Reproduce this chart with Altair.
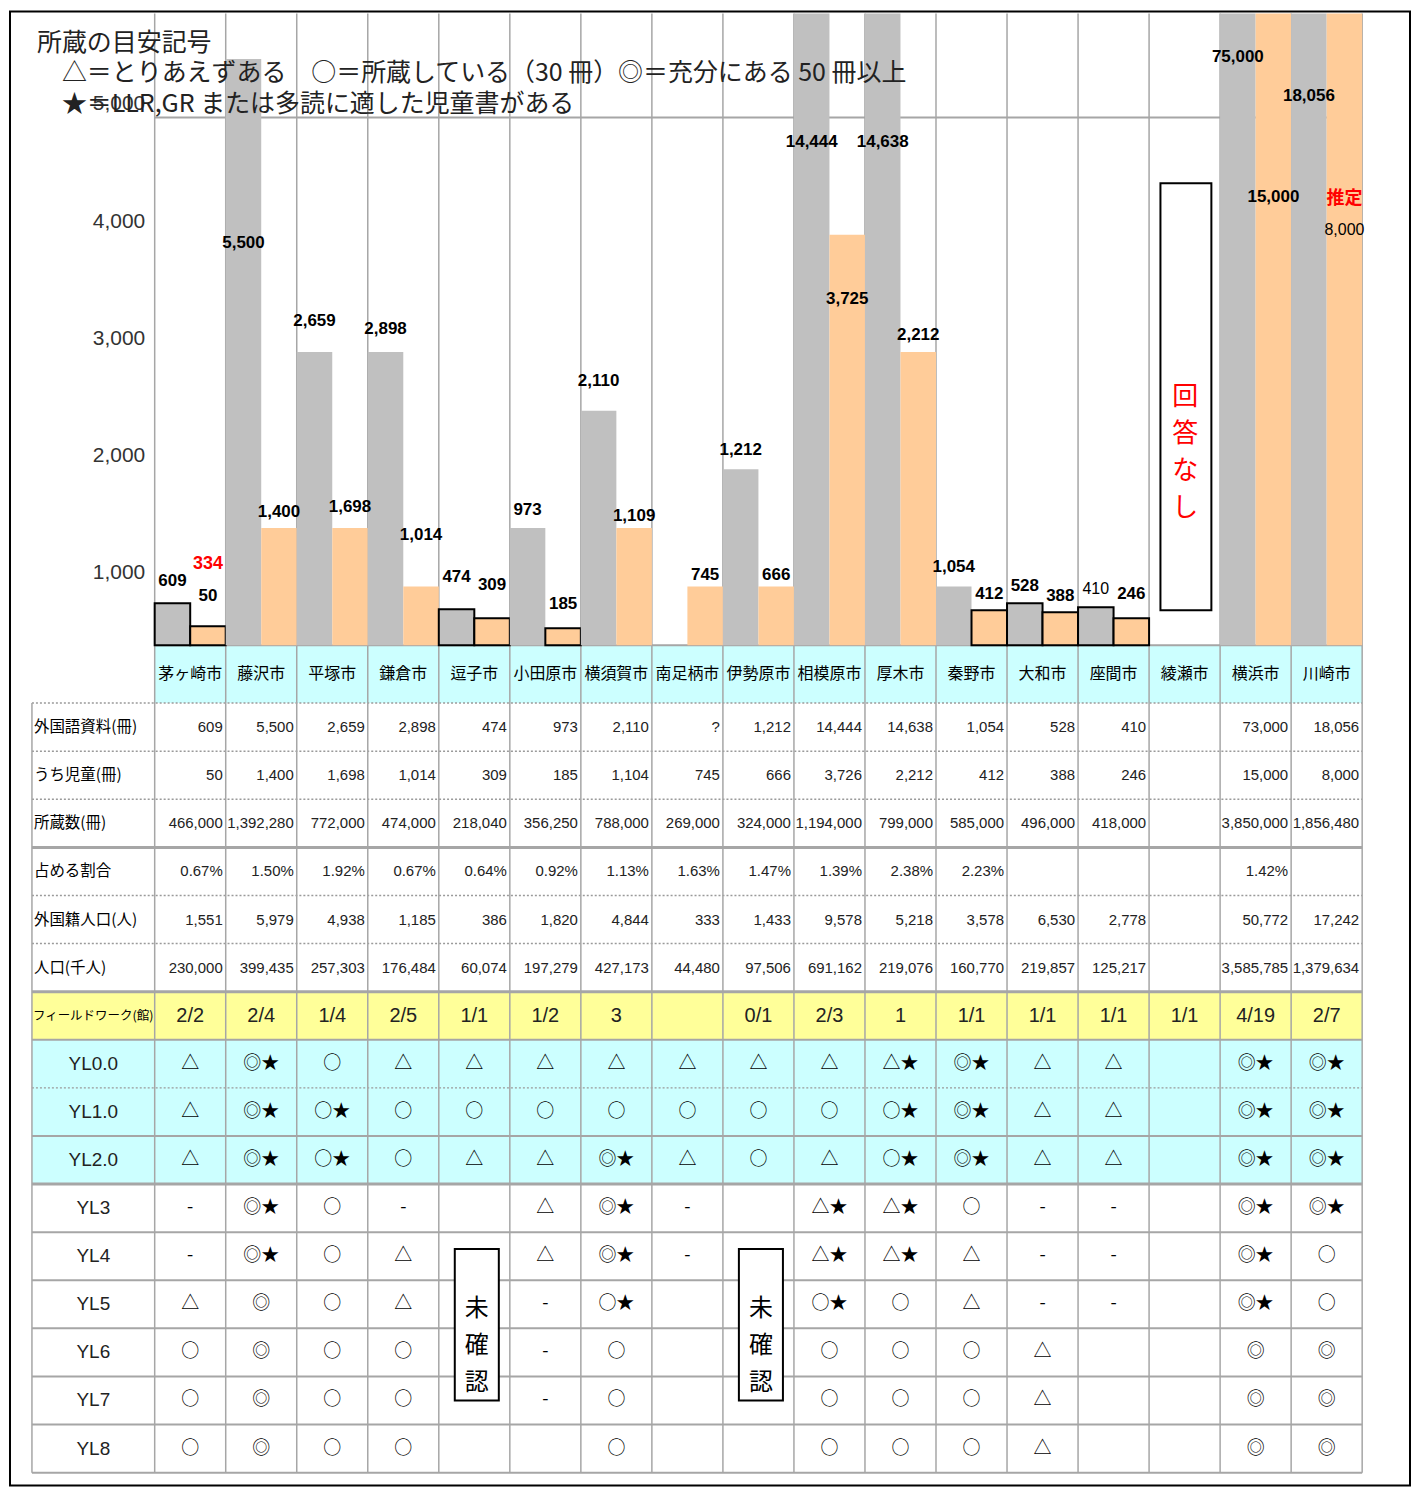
import altair as alt
import pandas as pd

# ---------------- data ----------------
CITIES = ["茅ヶ崎市", "藤沢市", "平塚市", "鎌倉市", "逗子市", "小田原市", "横須賀市", "南足柄市",
          "伊勢原市", "相模原市", "厚木市", "秦野市", "大和市", "座間市", "綾瀬市", "横浜市", "川崎市"]

# drawn bar heights (chart units) and their printed labels
FOREIGN_BAR = [357, 5000, 2500, 2500, 306, 1000, 2000, 0, 1500, 14444, 14638, 500, 357, 323, 0, 75000, 18056]
CHILD_BAR = [162, 1000, 1000, 500, 230, 145, 1000, 500, 500, 3500, 2500, 298, 281, 230, 0, 15000, 8000]
FOREIGN_LABEL = ["609", "5,500", "2,659", "2,898", "474", "973", "2,110", "", "1,212", "14,444", "14,638",
                 "1,054", "528", "410", "", "75,000", "18,056"]
CHILD_LABEL = ["50", "1,400", "1,698", "1,014", "309", "185", "1,109", "745", "666", "3,725", "2,212",
               "412", "388", "246", "", "15,000", "8,000"]
# height (chart units) at which each printed label sits
FOREIGN_LABEL_AT = [545, 3430, 2766, 2698, 579, 1149, 2255, 0, 1668, 4289, 4289, 664, 502, 477, 0, 5021, 4681]
CHILD_LABEL_AT = [417, 1140, 1183, 936, 511, 349, 1098, 596, 596, 2953, 2647, 434, 417, 434, 0, 3821, 3540]
PLAIN_LABELS = [("座間市", 0), ("川崎市", 1)]

NOTE_TEXT = ["334", "推定"]
NOTE_CITY = ["茅ヶ崎市", "川崎市"]
NOTE_AT = [689, 3804]

NOANSWER_CITY = "綾瀬市"
NOANSWER_TEXT = "回\n答\nな\nし"
NOANSWER_RANGE = [298, 3940]

Y_TICKS = [1000, 2000, 3000, 4000, 5000]

LEGEND_LINES = ["所蔵の目安記号",
                "△＝とりあえずある　○＝所蔵している（30 冊）◎＝充分にある 50 冊以上",
                "★＝LLR,GR または多読に適した児童書がある"]

ROW_LABELS = ["外国語資料(冊)", "うち児童(冊)", "所蔵数(冊)", "占める割合", "外国籍人口(人)", "人口(千人)",
              "フィールドワーク(館)", "YL0.0", "YL1.0", "YL2.0", "YL3", "YL4", "YL5", "YL6", "YL7", "YL8"]

ROW_FOREIGN = ["609", "5,500", "2,659", "2,898", "474", "973", "2,110", "?", "1,212", "14,444", "14,638",
               "1,054", "528", "410", "", "73,000", "18,056"]
ROW_CHILD = ["50", "1,400", "1,698", "1,014", "309", "185", "1,104", "745", "666", "3,726", "2,212",
             "412", "388", "246", "", "15,000", "8,000"]
ROW_HOLDINGS = ["466,000", "1,392,280", "772,000", "474,000", "218,040", "356,250", "788,000", "269,000",
                "324,000", "1,194,000", "799,000", "585,000", "496,000", "418,000", "", "3,850,000", "1,856,480"]
ROW_SHARE = ["0.67%", "1.50%", "1.92%", "0.67%", "0.64%", "0.92%", "1.13%", "1.63%", "1.47%", "1.39%",
             "2.38%", "2.23%", "", "", "", "1.42%", ""]
ROW_FOREIGN_POP = ["1,551", "5,979", "4,938", "1,185", "386", "1,820", "4,844", "333", "1,433", "9,578",
                   "5,218", "3,578", "6,530", "2,778", "", "50,772", "17,242"]
ROW_POP = ["230,000", "399,435", "257,303", "176,484", "60,074", "197,279", "427,173", "44,480", "97,506",
           "691,162", "219,076", "160,770", "219,857", "125,217", "", "3,585,785", "1,379,634"]
ROW_FIELDWORK = ["2/2", "2/4", "1/4", "2/5", "1/1", "1/2", "3", "", "0/1", "2/3", "1", "1/1", "1/1", "1/1",
                 "1/1", "4/19", "2/7"]
ROW_YL00 = ["△", "◎★", "○", "△", "△", "△", "△", "△", "△", "△", "△★", "◎★", "△", "△", "", "◎★", "◎★"]
ROW_YL10 = ["△", "◎★", "○★", "○", "○", "○", "○", "○", "○", "○", "○★", "◎★", "△", "△", "", "◎★", "◎★"]
ROW_YL20 = ["△", "◎★", "○★", "○", "△", "△", "◎★", "△", "○", "△", "○★", "◎★", "△", "△", "", "◎★", "◎★"]
ROW_YL3 = ["-", "◎★", "○", "-", "", "△", "◎★", "-", "", "△★", "△★", "○", "-", "-", "", "◎★", "◎★"]
ROW_YL4 = ["-", "◎★", "○", "△", "", "△", "◎★", "-", "", "△★", "△★", "△", "-", "-", "", "◎★", "○"]
ROW_YL5 = ["△", "◎", "○", "△", "", "-", "○★", "", "", "○★", "○", "△", "-", "-", "", "◎★", "○"]
ROW_YL6 = ["○", "◎", "○", "○", "", "-", "○", "", "", "○", "○", "○", "△", "", "", "◎", "◎"]
ROW_YL7 = ["○", "◎", "○", "○", "", "-", "○", "", "", "○", "○", "○", "△", "", "", "◎", "◎"]
ROW_YL8 = ["○", "◎", "○", "○", "", "", "○", "", "", "○", "○", "○", "△", "", "", "◎", "◎"]
TABLE_ROWS = [ROW_FOREIGN, ROW_CHILD, ROW_HOLDINGS, ROW_SHARE, ROW_FOREIGN_POP, ROW_POP, ROW_FIELDWORK,
              ROW_YL00, ROW_YL10, ROW_YL20, ROW_YL3, ROW_YL4, ROW_YL5, ROW_YL6, ROW_YL7, ROW_YL8]

UNCONFIRMED_CITIES = ["逗子市", "伊勢原市"]
UNCONFIRMED_TEXT = "未\n確\n認"

# ---------------- layout / style ----------------
PAGE_L, PAGE_T, PAGE_R, PAGE_B = 10, 10, 1413, 1487
COL0, COLW = 155, 71.18
BASE, PXU = 645, 0.1175
CHART_TOP = 12
T0, ROWH = 703, 48.2
W, H = PAGE_R - PAGE_L, PAGE_B - PAGE_T
NC = len(CITIES)

GRAY, ORANGE, CYAN, YELLOW = "#C0C0C0", "#FFCC99", "#CCFFFF", "#FFFF99"
LINE = "#A6A6A6"
NARROW = "Liberation Sans Narrow, Liberation Sans, Arial, sans-serif"
CJK = "Noto Sans CJK JP, sans-serif"

XS = alt.Scale(domain=[(PAGE_L - COL0) / COLW, (PAGE_R - COL0) / COLW], nice=False, zero=False)
YB = alt.Scale(domain=[(BASE - PAGE_B) / PXU, (BASE - PAGE_T) / PXU], nice=False, zero=False)
YT = alt.Scale(domain=[(PAGE_T - T0) / ROWH, (PAGE_B - T0) / ROWH], nice=False, zero=False, reverse=True)
TOP_VAL = (BASE - CHART_TOP) / PXU
TOP_T = (CHART_TOP - T0) / ROWH
CITY_T = (BASE - T0) / ROWH
LABEL_X = (32 - COL0) / COLW

YAX = alt.Axis(values=Y_TICKS, format=",d", labelOffset=45, offset=-(COL0 - PAGE_L), domain=False,
               ticks=False, grid=False, labelPadding=10, labelFont=NARROW, labelFontSize=21,
               labelColor="#333333", title=None)

# ---------------- bar part ----------------
bar_rows = []
for i, c in enumerate(CITIES):
    for s, (h, lab, at) in enumerate([(FOREIGN_BAR[i], FOREIGN_LABEL[i], FOREIGN_LABEL_AT[i]),
                                      (CHILD_BAR[i], CHILD_LABEL[i], CHILD_LABEL_AT[i])]):
        bar_rows.append(dict(i=i, city=c, s=s, series=["外国語資料", "うち児童"][s], h=h, lab=lab, at=at,
                             plain=(c, s) in PLAIN_LABELS))
bar_df = pd.DataFrame(bar_rows)

bars = alt.Chart(bar_df).transform_filter("datum.h > 0").transform_calculate(
    xa="datum.i + 0.5*datum.s", xb="datum.i + 0.5*datum.s + 0.5",
    hc=f"min(datum.h, {TOP_VAL})", z="0"
).mark_rect(strokeWidth=2).encode(
    x=alt.X("xa:Q", scale=XS, axis=None), x2="xb:Q",
    y=alt.Y("hc:Q", scale=YB, axis=YAX), y2="z:Q",
    color=alt.Color("series:N", scale=alt.Scale(domain=["外国語資料", "うち児童"], range=[GRAY, ORANGE]),
                    legend=None),
    stroke=alt.condition("datum.h < 450", alt.value("#000000"), alt.value("transparent")),
)

grid_top = alt.Chart(pd.DataFrame({"v": [4500], "a": [0], "b": [NC]})).mark_rule(
    color=LINE, strokeWidth=2).encode(
    x=alt.X("a:Q", scale=XS, axis=None), x2="b:Q", y=alt.Y("v:Q", scale=YB, axis=YAX))

label_base = alt.Chart(bar_df).transform_filter("datum.lab != ''").transform_calculate(
    xc="datum.i + 0.5*datum.s + 0.25")
labels_bold = label_base.transform_filter("!datum.plain").mark_text(
    font=NARROW, fontSize=17, fontWeight="bold", color="#000000", baseline="middle").encode(
    x=alt.X("xc:Q", scale=XS, axis=None), y=alt.Y("at:Q", scale=YB, axis=YAX), text="lab:N")
labels_plain = label_base.transform_filter("datum.plain").mark_text(
    font=NARROW, fontSize=16, color="#000000", baseline="middle").encode(
    x=alt.X("xc:Q", scale=XS, axis=None), y=alt.Y("at:Q", scale=YB, axis=YAX), text="lab:N")

note_df = pd.DataFrame({"i": [CITIES.index(c) for c in NOTE_CITY], "t": NOTE_TEXT, "at": NOTE_AT})
notes = alt.Chart(note_df).transform_calculate(xc="datum.i + 0.75").mark_text(
    font="Liberation Sans, Noto Sans CJK JP, sans-serif", fontSize=18, fontWeight="bold",
    color="#FF0000", baseline="middle").encode(
    x=alt.X("xc:Q", scale=XS, axis=None), y=alt.Y("at:Q", scale=YB, axis=YAX), text="t:N")

na_i = CITIES.index(NOANSWER_CITY)
na_df = pd.DataFrame({"i": [na_i], "lo": [NOANSWER_RANGE[0]], "hi": [NOANSWER_RANGE[1]], "t": [NOANSWER_TEXT]})
na_box = alt.Chart(na_df).transform_calculate(xa="datum.i + 0.16", xb="datum.i + 0.877").mark_rect(
    fill="#FFFFFF", stroke="#000000", strokeWidth=2).encode(
    x=alt.X("xa:Q", scale=XS, axis=None), x2="xb:Q", y=alt.Y("lo:Q", scale=YB, axis=YAX), y2="hi:Q")
na_text = alt.Chart(na_df).transform_calculate(xc="datum.i + 0.51", yc="(datum.lo + datum.hi)/2").mark_text(
    font=CJK, fontSize=26, color="#FF0000", lineBreak="\n", lineHeight=37, baseline="middle").encode(
    x=alt.X("xc:Q", scale=XS, axis=None), y=alt.Y("yc:Q", scale=YB, axis=YAX), text="t:N")

bar_group = alt.layer(grid_top, bars, labels_bold, labels_plain, notes, na_box, na_text)

# ---------------- table part ----------------
bg_df = pd.DataFrame([
    dict(xa=0, xb=NC, ta=CITY_T, tb=0, fill=CYAN),
    dict(xa=LABEL_X, xb=NC, ta=6, tb=7, fill=YELLOW),
    dict(xa=LABEL_X, xb=NC, ta=7, tb=10, fill=CYAN),
])
bg = alt.Chart(bg_df).mark_rect().encode(
    x=alt.X("xa:Q", scale=XS, axis=None), x2="xb:Q",
    y=alt.Y("ta:Q", scale=YT, axis=None), y2="tb:Q",
    fill=alt.Fill("fill:N", scale=None))

DOTTED_ROWS = [0, 1, 2, 4, 5, 8]
THICK_ROWS = [3, 6, 10]
nrows = len(TABLE_ROWS)
h_solid = pd.DataFrame([dict(t=t, xa=LABEL_X, xb=NC) for t in range(nrows + 1)
                        if t not in DOTTED_ROWS and t not in THICK_ROWS] + [dict(t=CITY_T, xa=0, xb=NC)])
h_thick = pd.DataFrame([dict(t=t, xa=LABEL_X, xb=NC) for t in THICK_ROWS])
h_dot = pd.DataFrame([dict(t=t, xa=LABEL_X, xb=NC) for t in DOTTED_ROWS])


def hline(df, width, dash=None, color=LINE):
    kw = dict(color=color, strokeWidth=width)
    if dash:
        kw["strokeDash"] = dash
    return alt.Chart(df).mark_rule(**kw).encode(
        x=alt.X("xa:Q", scale=XS, axis=None), x2="xb:Q", y=alt.Y("t:Q", scale=YT, axis=None))


v_df = pd.DataFrame([dict(x=j, ta=TOP_T, tb=nrows) for j in range(NC + 1)] + [dict(x=LABEL_X, ta=0, tb=nrows)])
vlines = alt.Chart(v_df).mark_rule(color=LINE, strokeWidth=1.5).encode(
    x=alt.X("x:Q", scale=XS, axis=None), y=alt.Y("ta:Q", scale=YT, axis=None), y2="tb:Q")

city_df = pd.DataFrame({"i": range(NC), "city": CITIES})
city_text = alt.Chart(city_df).transform_calculate(xc="datum.i + 0.5", yc=f"{CITY_T}/2").mark_text(
    font=CJK, fontSize=16, color="#000000", baseline="middle").encode(
    x=alt.X("xc:Q", scale=XS, axis=None), y=alt.Y("yc:Q", scale=YT, axis=None), text="city:N")

rl_df = pd.DataFrame({"k": range(nrows), "lab": ROW_LABELS})
rl_cjk = alt.Chart(rl_df).transform_filter("datum.k < 6").transform_calculate(
    xc=f"{LABEL_X}", yc="datum.k + 0.5").mark_text(
    font=CJK, fontSize=15.5, color="#000000", align="left", dx=2, baseline="middle").encode(
    x=alt.X("xc:Q", scale=XS, axis=None), y=alt.Y("yc:Q", scale=YT, axis=None), text="lab:N")
rl_fw = alt.Chart(rl_df).transform_filter("datum.k == 6").transform_calculate(
    xc=f"{LABEL_X}", yc="datum.k + 0.5").mark_text(
    font=CJK, fontSize=12.5, color="#000000", align="left", dx=1, baseline="middle").encode(
    x=alt.X("xc:Q", scale=XS, axis=None), y=alt.Y("yc:Q", scale=YT, axis=None), text="lab:N")
rl_yl = alt.Chart(rl_df).transform_filter("datum.k > 6").transform_calculate(
    xc=f"{LABEL_X / 2}", yc="datum.k + 0.5").mark_text(
    font=NARROW, fontSize=19, color="#222222", baseline="middle").encode(
    x=alt.X("xc:Q", scale=XS, axis=None), y=alt.Y("yc:Q", scale=YT, axis=None), text="lab:N")

cells = []
for k, row in enumerate(TABLE_ROWS):
    for i, txt in enumerate(row):
        if txt:
            cells.append(dict(i=i, k=k, txt=txt))
cell_df = pd.DataFrame(cells)
cell_num = alt.Chart(cell_df).transform_filter("datum.k < 6").transform_calculate(
    xc="datum.i + 1", yc="datum.k + 0.5").mark_text(
    font=NARROW, fontSize=15, color="#222222", align="right", dx=-3, baseline="middle").encode(
    x=alt.X("xc:Q", scale=XS, axis=None), y=alt.Y("yc:Q", scale=YT, axis=None), text="txt:N")
cell_fw = alt.Chart(cell_df).transform_filter("datum.k == 6").transform_calculate(
    xc="datum.i + 0.5", yc="datum.k + 0.5").mark_text(
    font=NARROW, fontSize=20, color="#222222", baseline="middle").encode(
    x=alt.X("xc:Q", scale=XS, axis=None), y=alt.Y("yc:Q", scale=YT, axis=None), text="txt:N")
cell_sym = alt.Chart(cell_df).transform_filter("datum.k > 6").transform_calculate(
    xc="datum.i + 0.5", yc="datum.k + 0.5").mark_text(
    font=CJK, fontSize=18, color="#000000", baseline="middle").encode(
    x=alt.X("xc:Q", scale=XS, axis=None), y=alt.Y("yc:Q", scale=YT, axis=None), text="txt:N")

uc_df = pd.DataFrame({"i": [CITIES.index(c) for c in UNCONFIRMED_CITIES], "t": UNCONFIRMED_TEXT})
uc_box = alt.Chart(uc_df).transform_calculate(
    xa="datum.i + 0.225", xb="datum.i + 0.845", ta="11.35", tb="14.5").mark_rect(
    fill="#FFFFFF", stroke="#000000", strokeWidth=2).encode(
    x=alt.X("xa:Q", scale=XS, axis=None), x2="xb:Q", y=alt.Y("ta:Q", scale=YT, axis=None), y2="tb:Q")
uc_text = alt.Chart(uc_df).transform_calculate(xc="datum.i + 0.535", yc="12.6").mark_text(
    font=CJK, fontSize=24, color="#000000", lineBreak="\n", lineHeight=37, baseline="middle").encode(
    x=alt.X("xc:Q", scale=XS, axis=None), y=alt.Y("yc:Q", scale=YT, axis=None), text="t:N")

table_group = alt.layer(bg, hline(h_solid, 2), hline(h_thick, 3), hline(h_dot, 1.5, [2, 2], "#9A9A9A"),
                        vlines, city_text, rl_cjk, rl_fw, rl_yl, cell_num, cell_fw, cell_sym, uc_box, uc_text)

# ---------------- legend text ----------------
leg_df = pd.DataFrame({"t": LEGEND_LINES, "n": range(len(LEGEND_LINES))})
LEG_POS = [(27, 32), (52, 62), (52, 93)]
legend_layers = [
    alt.Chart(leg_df).transform_filter(f"datum.n == {n}").mark_text(
        font=CJK, fontSize=25, color="#222222", align="left", baseline="middle").encode(
        x=alt.value(px), y=alt.value(py), text="t:N")
    for n, (px, py) in enumerate(LEG_POS)
]

chart = alt.layer(table_group, bar_group, *legend_layers).resolve_scale(
    y="independent").properties(
    width=W, height=H, padding=2, autosize=alt.AutoSizeParams(type="none"),
    background="#FFFFFF").configure_view(stroke="#000000", strokeWidth=2)

chart.save("out.html", embed_options={"renderer": "svg", "actions": False})
